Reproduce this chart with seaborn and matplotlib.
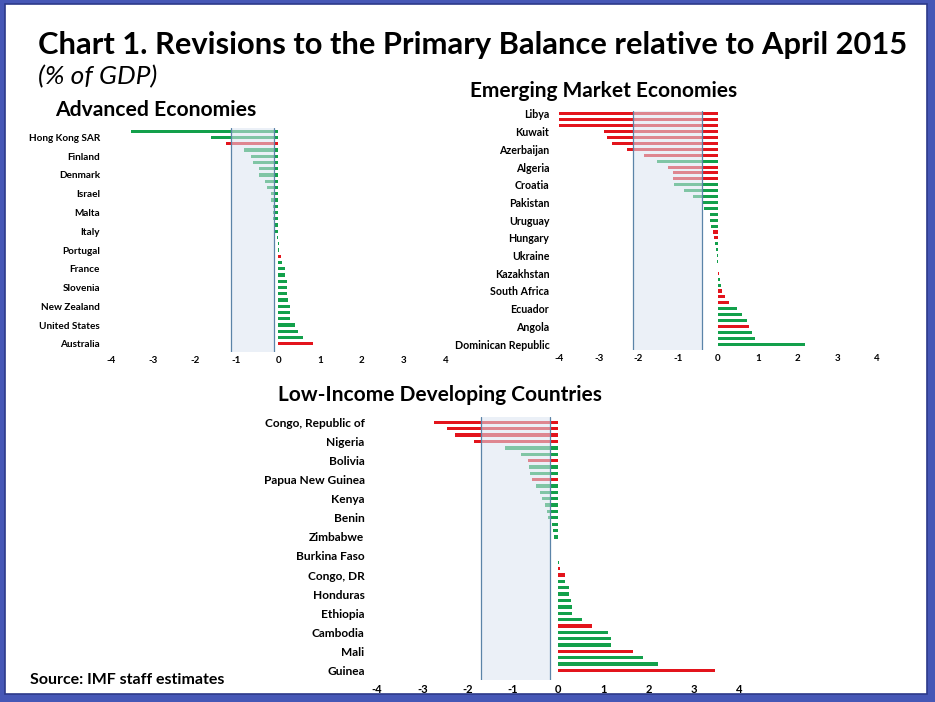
import matplotlib
matplotlib.use("Agg")
import matplotlib.pyplot as plt
import numpy as np
import pandas as pd
import seaborn as sns
from matplotlib.patches import Rectangle

sns.set_theme(style="white")
plt.rcParams['font.family'] = ['Lato', 'DejaVu Sans']
plt.rcParams['text.color'] = 'black'
plt.rcParams['xtick.color'] = 'black'
plt.rcParams['ytick.color'] = 'black'

GREEN = '#13a04b'
RED = '#e3141c'
BAND = '#dbe5f1'
BAND_LINE = '#5b84a8'
FRAME = '#4657b6'

# Advanced economies (35 bars, every third labelled starting at bar 1)
adv_labels = ['Hong Kong SAR', 'Finland', 'Denmark', 'Israel', 'Malta', 'Italy',
              'Portugal', 'France', 'Slovenia', 'New Zealand', 'United States', 'Australia']
adv_values = [-3.52, -1.62, -1.24, -0.82, -0.66, -0.60, -0.47, -0.46, -0.31, -0.28,
              -0.17, -0.17, -0.12, -0.12, -0.12, -0.10, -0.08, -0.04, 0.02, 0.02,
              0.07, 0.08, 0.15, 0.17, 0.20, 0.22, 0.22, 0.23, 0.27, 0.27,
              0.27, 0.40, 0.48, 0.58, 0.83]
adv_signs = list('ggrgggggggggggggggggrgggggggggggggr')
adv_band = (-1.12, -0.10)

# Emerging market economies (40 bars, every third labelled from bar 0)
em_labels = ['Libya', 'Kuwait', 'Azerbaijan', 'Algeria', 'Croatia', 'Pakistan', 'Uruguay',
             'Hungary', 'Ukraine', 'Kazakhstan', 'South Africa', 'Ecuador', 'Angola',
             'Dominican Republic']
em_values = [-4.0, -4.0, -4.0, -2.88, -2.78, -2.66, -2.28, -1.85, -1.54, -1.27,
             -1.14, -1.12, -1.10, -0.85, -0.62, -0.39, -0.34, -0.20, -0.19, -0.18,
             -0.13, -0.10, -0.07, -0.05, -0.03, -0.02, 0.005, 0.02, 0.06, 0.07,
             0.11, 0.17, 0.27, 0.47, 0.60, 0.72, 0.77, 0.85, 0.93, 2.20]
em_signs = list('rrrrrrrrgrrrggggggggrrgggggrggrrrgggrggg')
em_band = (-2.14, -0.39)

# Low-income developing countries (40 bars, every third labelled from bar 0)
lidc_labels = ['Congo, Republic of', 'Nigeria', 'Bolivia', 'Papua New Guinea', 'Kenya',
               'Benin', 'Zimbabwe', 'Burkina Faso', 'Congo, DR', 'Honduras', 'Ethiopia',
               'Cambodia', 'Mali', 'Guinea']
lidc_values = [-2.75, -2.46, -2.28, -1.85, -1.18, -0.81, -0.67, -0.64, -0.62, -0.57,
               -0.49, -0.40, -0.35, -0.29, -0.24, -0.21, -0.13, -0.10, -0.09, 0.0,
               0.0, 0.0, 0.02, 0.04, 0.15, 0.16, 0.25, 0.25, 0.28, 0.30,
               0.30, 0.52, 0.75, 1.10, 1.17, 1.17, 1.66, 1.87, 2.20, 3.47]
lidc_signs = list('rrrrggrggrgggggggggggggrrgggggggrgggrggr')
lidc_band = (-1.71, -0.18)

W, H = 935, 702
fig = plt.figure(figsize=(W / 100, H / 100), dpi=100)
fig.patch.set_facecolor(FRAME)
fig.patches.append(Rectangle((5 / W, 8 / H), 922 / W, 690 / H, transform=fig.transFigure,
                             facecolor='white', edgecolor='#2c3a8a', linewidth=1.2,
                             zorder=-10))


def px_axes(left, top, right, bottom):
    return fig.add_axes([left / W, 1 - bottom / H, (right - left) / W, (bottom - top) / H])


def panel(ax, values, signs, labels, first, band, top_pad, bottom_pad, pad, ysize, xsize):
    n = len(values)
    df = pd.DataFrame({'pos': np.arange(n), 'value': values, 'sign': signs})
    sns.barplot(data=df, x='value', y='pos', hue='sign', orient='h', dodge=False,
                palette={'g': GREEN, 'r': RED}, width=0.52, legend=False,
                saturation=1, linewidth=0, ax=ax)
    ax.set_xlim(-4, 4)
    ax.set_ylim(n - 0.5 + bottom_pad, -0.5 - top_pad)
    ax.axvspan(band[0], band[1], color=BAND, alpha=0.55, lw=0, zorder=5)
    for xv in band:
        ax.axvline(xv, color=BAND_LINE, lw=0.9, zorder=6)
    ax.set_xticks(range(-4, 5))
    ax.set_xticklabels([str(t) for t in range(-4, 5)], fontsize=xsize, fontweight='bold')
    ax.set_yticks(np.arange(first, n, 3))
    ax.set_yticklabels(labels, fontsize=ysize, fontweight='bold')
    ax.tick_params(axis='y', length=0, pad=pad)
    ax.tick_params(axis='x', length=0, pad=3)
    ax.set_xlabel('')
    ax.set_ylabel('')
    sns.despine(ax=ax, left=True, bottom=True)
    ax.set_facecolor('none')


ax1 = px_axes(111, 128, 445.5, 352)
panel(ax1, adv_values, adv_signs, adv_labels, 1, adv_band, 0.0, 0.8, 8, 7.2, 7)

ax2 = px_axes(559, 111, 877, 350)
panel(ax2, em_values, em_signs, em_labels, 0, em_band, 0.0, 0.5, 7, 7.7, 7)

ax3 = px_axes(377, 417, 739, 680)
panel(ax3, lidc_values, lidc_signs, lidc_labels, 0, lidc_band, 0.35, 1.0, 9, 8.6, 8)

fig.text(38 / W, 1 - 45 / H, 'Chart 1. Revisions to the Primary Balance relative to April 2015',
         fontsize=22.2, fontweight='bold', va='center', ha='left')
fig.text(38 / W, 1 - 77 / H, '(% of GDP)', fontsize=19, style='italic', va='center', ha='left')
fig.text(55 / W, 1 - 110 / H, 'Advanced Economies', fontsize=15.2, fontweight='bold',
         va='center', ha='left')
fig.text(470 / W, 1 - 91 / H, 'Emerging Market Economies', fontsize=15, fontweight='bold',
         va='center', ha='left')
fig.text(278 / W, 1 - 395 / H, 'Low-Income Developing Countries', fontsize=15,
         fontweight='bold', va='center', ha='left')
fig.text(30 / W, 1 - 680 / H, 'Source: IMF staff estimates', fontsize=11.5, fontweight='bold',
         va='center', ha='left')

fig.savefig('out.png', dpi=100, facecolor=fig.get_facecolor())
